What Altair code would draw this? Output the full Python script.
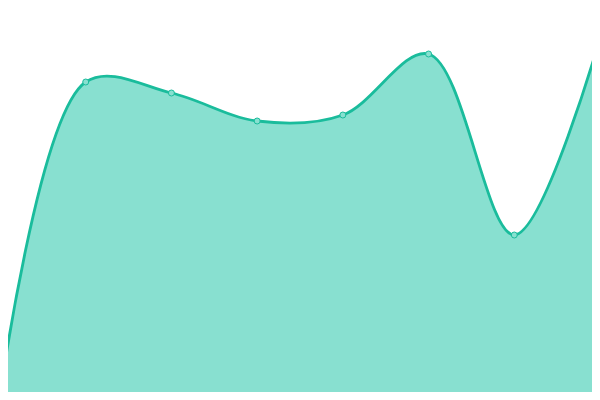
import altair as alt
import pandas as pd

labels = [0, 1, 2, 3, 4, 5, 6, 7]
values = [4, 318, 307, 279, 285, 346, 165, 362]

df = pd.DataFrame({"x": labels, "v": values})

x = alt.X("x:Q", axis=None, scale=alt.Scale(domain=[8 / (600 / 7), 592 / (600 / 7)], nice=False, zero=False))
y = alt.Y("v:Q", axis=None, scale=alt.Scale(domain=[8, 392], nice=False, zero=False))

base = alt.Chart(df)
area = base.mark_area(
    interpolate="catmull-rom",
    color="#88e0d0",
    opacity=1,
    line={"color": "#1abc9c", "strokeWidth": 2.8},
    clip=False,
).encode(x=x, y=y, y2=alt.datum(0))
pts = base.mark_point(
    filled=True, fill="#88e0d0", stroke="#1abc9c", strokeWidth=1, size=36, opacity=1, clip=False
).encode(x=x, y=y)

chart = (
    (area + pts)
    .properties(width=584, height=384, padding=0, autosize=alt.AutoSizeParams(type="none"))
    .configure_view(stroke=None)
)
chart.save("out.html", embed_options={"renderer": "svg", "actions": False})
